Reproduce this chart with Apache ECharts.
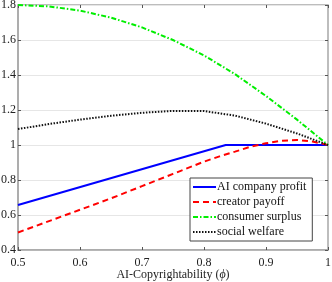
<!DOCTYPE html>
<html><head><meta charset="utf-8">
<script src="https://cdn.jsdelivr.net/npm/echarts@6/dist/echarts.min.js"></script>
<style>html,body{margin:0;padding:0;background:#fff}#c{width:332px;height:282px}</style>
</head><body><div id="c"></div>
<script>
const seriesNames = ['AI company profit', 'creator payoff', 'consumer surplus', 'social welfare'];
const xTicks = [0.5, 0.6, 0.7, 0.8, 0.9, 1];
const yTicks = [0.4, 0.6, 0.8, 1, 1.2, 1.4, 1.6, 1.8];
const profitX = [0.5, 0.835, 1.0];
const profitY = [0.657, 1.0, 1.0];
const creatorX = [0.5, 0.55, 0.6, 0.65, 0.7, 0.75, 0.8, 0.825, 0.85, 0.875, 0.9, 0.925, 0.95, 0.975, 1.0];
const creatorY = [0.5, 0.565, 0.63, 0.695, 0.765, 0.835, 0.905, 0.935, 0.962, 0.99, 1.01, 1.024, 1.029, 1.02, 1.0];
const consumerX = [0.5, 0.55, 0.6, 0.65, 0.7, 0.75, 0.8, 0.85, 0.9, 0.95, 1.0];
const consumerY = [1.8, 1.792, 1.768, 1.728, 1.672, 1.6, 1.512, 1.405, 1.28, 1.145, 1.0];
const welfareX = [0.5, 0.55, 0.6, 0.65, 0.7, 0.75, 0.8, 0.85, 0.9, 0.95, 1.0];
const welfareY = [1.091, 1.12, 1.145, 1.167, 1.184, 1.195, 1.194, 1.168, 1.122, 1.066, 1.0];

const zip = (xs, ys) => xs.map((x, i) => [x, ys[i]]);
const font = 'Liberation Serif';
const chart = echarts.init(document.getElementById('c'), null, {renderer: 'canvas'});
const gridC = '#a8a8a8';
const mkLine = (name, data, color, type) => ({
  name, type: 'line', data, symbol: 'none', smooth: false,
  lineStyle: {color, width: 2, type}, itemStyle: {color},
  animation: false, z: 3
});
chart.setOption({
  animation: false,
  grid: {left: 18, right: 4, top: 5, bottom: 32, show: true, borderColor: gridC, borderWidth: 1.5,
    containLabel: false, outerBoundsMode: 'none'},
  xAxis: [{
    type: 'value', min: 0.5, max: 1, interval: 0.1,
    axisLine: {show: true, lineStyle: {color: gridC, width: 1.5}},
    axisTick: {show: true, inside: true, length: 3, lineStyle: {color: '#555'}},
    splitLine: {show: false},
    axisLabel: {color: '#222', fontFamily: font, fontSize: 12, margin: 7,
      formatter: v => xTicks.includes(+v.toFixed(2)) ? String(+v.toFixed(2)) : ''},
    name: '{a|AI-Copyrightability (}{b|ϕ}{a|)}', nameLocation: 'middle', nameGap: 19,
    nameMoveOverlap: false,
    nameTextStyle: {rich: {a: {fontFamily: font, fontSize: 12, color: '#222'}, b: {fontFamily: font, fontSize: 12, fontStyle: 'italic', color: '#222'}}}
  }, {
    type: 'value', position: 'top', min: 0.5, max: 1, interval: 0.1,
    axisLine: {show: false}, axisTick: {show: true, inside: true, length: 3, lineStyle: {color: '#555'}},
    axisLabel: {show: false}, splitLine: {show: false}
  }],
  yAxis: [{
    type: 'value', min: 0.4, max: 1.8, interval: 0.2,
    axisLine: {show: true, lineStyle: {color: gridC, width: 1.5}},
    axisTick: {show: true, inside: true, length: 3, lineStyle: {color: '#555'}},
    splitLine: {show: true, lineStyle: {color: '#e6e6e6', width: 1}},
    axisLabel: {color: '#222', fontFamily: font, fontSize: 12, margin: 2,
      formatter: v => String(+v.toFixed(2))}
  }, {
    type: 'value', position: 'right', min: 0.4, max: 1.8, interval: 0.2,
    axisLine: {show: false}, axisTick: {show: true, inside: true, length: 3, lineStyle: {color: '#555'}},
    axisLabel: {show: false}, splitLine: {show: false}
  }],
  legend: {
    orient: 'vertical', left: 190, top: 178, width: 122,
    data: seriesNames,
    backgroundColor: '#fff', borderColor: '#444', borderWidth: 1, borderRadius: 0,
    padding: [3, 6, 3, 2], itemGap: 3, itemWidth: 23, itemHeight: 12,
    itemStyle: {opacity: 0},
    textStyle: {fontFamily: font, fontSize: 12, color: '#111', padding: [0, 0, 0, -4]}
  },
  series: [
    mkLine(seriesNames[0], zip(profitX, profitY), '#0000ff', 'solid'),
    mkLine(seriesNames[1], zip(creatorX, creatorY), '#ff0000', [6, 4]),
    mkLine(seriesNames[2], zip(consumerX, consumerY), '#00ee00', [5, 2, 1.5, 2]),
    mkLine(seriesNames[3], zip(welfareX, welfareY), '#111111', [1.5, 1.5])
  ]
});
</script></body></html>
